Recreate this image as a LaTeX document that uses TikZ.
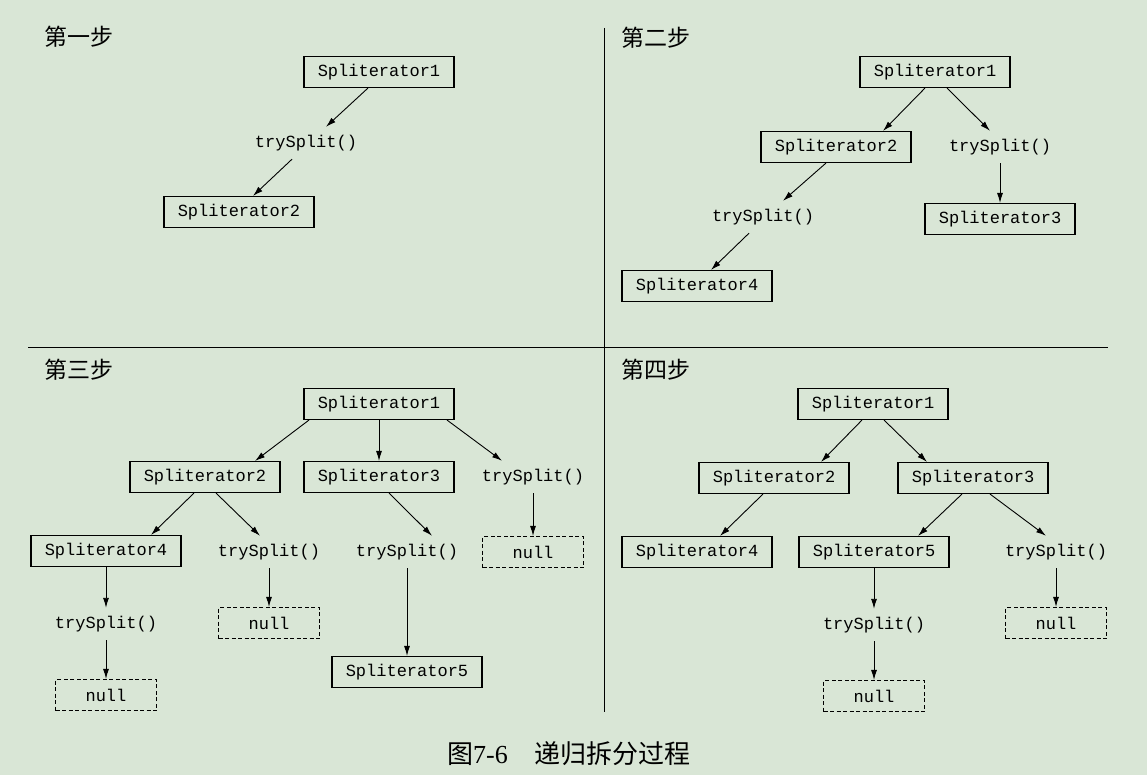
\documentclass[tikz,border=0pt]{standalone}
\usepackage{fontspec}
\setmainfont{Liberation Serif}
\setmonofont{Liberation Mono}
\newfontfamily\cjk{Noto Sans CJK SC}
\usepackage{tikz}
\usetikzlibrary{arrows.meta,calc,positioning}
\definecolor{pagebg}{RGB}{217,230,214}
\tikzset{% boxes and links of the split tree
	spl/.style={draw,line width=1.1pt,inner sep=0pt,minimum width=150pt,minimum height=31pt,
		font=\ttfamily\fontsize{17}{20}\selectfont},
	nullbox/.style={spl,dash pattern=on 4pt off 2.5pt,minimum width=101pt},
	call/.style={inner sep=0pt,minimum height=32pt,font=\ttfamily\fontsize{17}{20}\selectfont},
	steptitle/.style={anchor=west,inner sep=0pt,font=\cjk\fontsize{23}{26}\selectfont},
	link/.style={line width=0.9pt,-{Latex[length=10pt,width=6pt]}}
}
\begin{document}
\begin{tikzpicture}[x=1pt,y=-1pt]
\fill[pagebg] (0,0) rectangle (1147,775);
\draw[line width=1pt] (604,28) -- (604,712);
\draw[line width=1pt] (28,347) -- (1108,347);
% step 1
\node[steptitle] (ta) at (44,37) {第一步};
\node[spl] (a1) at (379,72) {Spliterator1};
\node[call] (at1) at (306,143) {trySplit()};
\node[spl] (a2) at (239,212) {Spliterator2};
\draw[link] ([xshift=-11pt]a1.south) -- ([xshift=20pt]at1.north);
\draw[link] ([xshift=-14pt]at1.south) -- ([xshift=14pt]a2.north);
% step 2
\node[steptitle] (tb) at (621,38) {第二步};
\node[spl] (b1) at (935,72) {Spliterator1};
\node[spl] (b2) at (836,147) {Spliterator2};
\node[call] (bt1) at (1000,147) {trySplit()};
\node[call] (bt2) at (763,217) {trySplit()};
\node[spl] (b3) at (1000,219) {Spliterator3};
\node[spl] (b4) at (697,286) {Spliterator4};
\draw[link] ([xshift=-10pt]b1.south) -- ([xshift=47pt]b2.north);
\draw[link] ([xshift=12pt]b1.south) -- ([xshift=-10pt]bt1.north);
\draw[link] ([xshift=-10pt]b2.south) -- ([xshift=20pt]bt2.north);
\draw[link] ([xshift=-14pt]bt2.south) -- ([xshift=14pt]b4.north);
\draw[link] (bt1) -- (b3);
% step 3
\node[steptitle] (tc) at (44,370) {第三步};
\node[spl] (c1) at (379,404) {Spliterator1};
\node[spl] (c2) at (205,477) {Spliterator2};
\node[spl] (c3) at (379,477) {Spliterator3};
\node[call] (ct1) at (533,477) {trySplit()};
\node[nullbox] (cn1) at (533,552) {null};
\node[spl] (c4) at (106,551) {Spliterator4};
\node[call] (ct2) at (269,552) {trySplit()};
\node[call] (ct3) at (407,552) {trySplit()};
\node[nullbox] (cn2) at (269,623) {null};
\node[call] (ct4) at (106,624) {trySplit()};
\node[spl] (c5) at (407,672) {Spliterator5};
\node[nullbox] (cn3) at (106,695) {null};
\draw[link] ([xshift=-70pt]c1.south) -- ([xshift=50pt]c2.north);
\draw[link] (c1) -- (c3);
\draw[link] ([xshift=68pt]c1.south) -- ([xshift=-31pt]ct1.north);
\draw[link] ([xshift=-11pt]c2.south) -- ([xshift=45pt]c4.north);
\draw[link] ([xshift=11pt]c2.south) -- ([xshift=-9pt]ct2.north);
\draw[link] ([xshift=10pt]c3.south) -- ([xshift=25pt]ct3.north);
\draw[link] (ct1) -- (cn1);
\draw[link] (c4) -- (ct4);
\draw[link] (ct4) -- (cn3);
\draw[link] (ct2) -- (cn2);
\draw[link] (ct3) -- (c5);
% step 4
\node[steptitle] (td) at (621,370) {第四步};
\node[spl] (d1) at (873,404) {Spliterator1};
\node[spl] (d2) at (774,478) {Spliterator2};
\node[spl] (d3) at (973,478) {Spliterator3};
\node[spl] (d4) at (697,552) {Spliterator4};
\node[spl] (d5) at (874,552) {Spliterator5};
\node[call] (dt1) at (1056,552) {trySplit()};
\node[call] (dt2) at (874,625) {trySplit()};
\node[nullbox] (dn1) at (1056,623) {null};
\node[nullbox] (dn2) at (874,696) {null};
\draw[link] ([xshift=-11pt]d1.south) -- ([xshift=47pt]d2.north);
\draw[link] ([xshift=11pt]d1.south) -- ([xshift=-46pt]d3.north);
\draw[link] ([xshift=-11pt]d2.south) -- ([xshift=23pt]d4.north);
\draw[link] ([xshift=-11pt]d3.south) -- ([xshift=44pt]d5.north);
\draw[link] ([xshift=17pt]d3.south) -- ([xshift=-10pt]dt1.north);
\draw[link] (d5) -- (dt2);
\draw[link] (dt2) -- (dn2);
\draw[link] (dt1) -- (dn1);
% caption
\node[anchor=west,inner sep=0pt,font=\fontsize{26}{30}\selectfont] (cap) at (447,754)
	{\cjk 图{\rmfamily 7-6}\hspace{27pt}递归拆分过程};
\end{tikzpicture}
\end{document}
